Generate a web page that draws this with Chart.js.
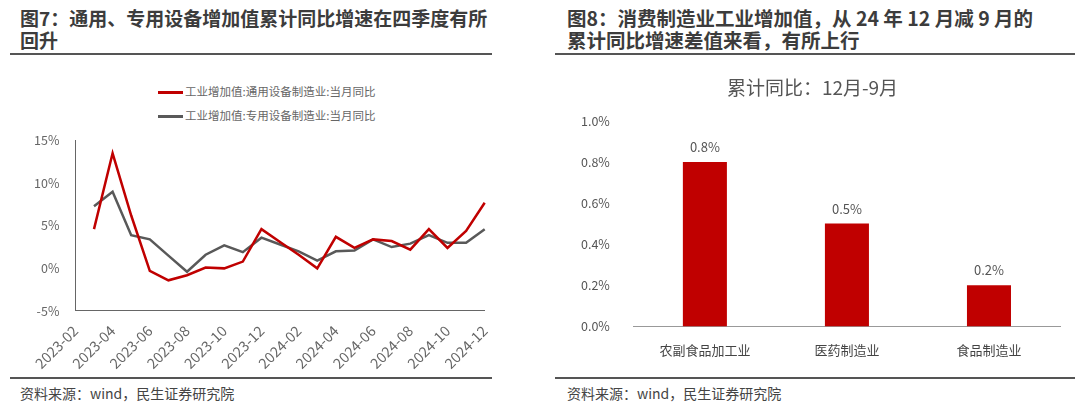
<!DOCTYPE html>
<html><head><meta charset="utf-8">
<script src="https://cdn.jsdelivr.net/npm/chart.js@4"></script>
<style>
body{margin:0;width:1080px;height:409px;background:#fff;font-family:"Noto Sans CJK SC",sans-serif;position:relative;overflow:hidden}
.title{position:absolute;font-weight:bold;font-size:19px;line-height:22px;color:#3c3c3c;white-space:nowrap}
.rule{position:absolute;height:2px;background:#555}
.src{position:absolute;font-size:14px;color:#444;top:383px}
.leg{position:absolute;font-size:11.5px;color:#666;left:158px}
.leg i{display:inline-block;width:25px;height:3px;vertical-align:middle;margin-right:2px}
</style></head><body>
<div class="title" style="left:20px;top:7px">图7：通用、专用设备增加值累计同比增速在四季度有所<br>回升</div>
<div class="rule" style="left:10px;top:53px;width:482px"></div>
<div class="title" style="left:567px;top:7px;font-size:19.5px">图8：消费制造业工业增加值，从 24 年 12 月减 9 月的<br>累计同比增速差值来看，有所上行</div>
<div class="rule" style="left:555px;top:53px;width:520px"></div>
<div class="leg" style="top:83px"><i style="background:#c00000"></i>工业增加值:通用设备制造业:当月同比</div>
<div class="leg" style="top:107px"><i style="background:#595959"></i>工业增加值:专用设备制造业:当月同比</div>
<div style="position:absolute;left:26px;top:125px;width:474px;height:250px"><canvas id="c1"></canvas></div>
<div style="position:absolute;left:565px;top:76px;width:505px;height:300px"><canvas id="c2"></canvas></div>
<div class="rule" style="left:10px;top:377px;width:482px"></div>
<div class="rule" style="left:555px;top:377px;width:520px"></div>
<div class="src" style="left:20px">资料来源：wind，民生证券研究院</div>
<div class="src" style="left:567px">资料来源：wind，民生证券研究院</div>
<script>
const months = ['2023-02','2023-03','2023-04','2023-05','2023-06','2023-07','2023-08','2023-09','2023-10','2023-11','2023-12',
  '2024-01','2024-02','2024-03','2024-04','2024-05','2024-06','2024-07','2024-08','2024-09','2024-10','2024-11','2024-12'];
const general = [null,4.6,13.5,6.2,-0.3,-1.4,-0.8,0.1,0,0.8,4.6,3.1,1.6,0,3.7,2.4,3.4,3.2,2.2,4.6,2.4,4.4,7.7];
const special = [null,7.3,9.0,3.9,3.4,1.5,-0.4,1.6,2.7,1.9,3.6,2.8,2.0,0.9,2.0,2.1,3.4,2.5,2.9,3.9,3.0,3.0,4.6];
const industries = ['农副食品加工业','医药制造业','食品制造业'];
const diffs = [0.8,0.5,0.2];

const tickFont = {family:'Noto Sans CJK SC', size:14.5};
new Chart(document.getElementById('c1'), {
  type:'line',
  data:{labels:months, datasets:[
    {data:general, borderColor:'#c00000', borderWidth:2.5, pointRadius:0, tension:0},
    {data:special, borderColor:'#595959', borderWidth:2.5, pointRadius:0, tension:0}
  ]},
  options:{responsive:true, maintainAspectRatio:false, animation:false,
    layout:{padding:{right:14, top:6}},
    plugins:{legend:{display:false}},
    scales:{
      x:{grid:{display:false, drawTicks:true}, border:{color:'#666'},
        ticks:{color:'#666', font:tickFont, maxRotation:45, minRotation:45, autoSkip:false,
          callback:(v,i)=> i%2===0 ? months[i] : ''}},
      y:{min:-5, max:15, grid:{display:false}, border:{color:'#666'},
        ticks:{stepSize:5, color:'#666', font:{family:'Noto Sans CJK SC', size:12.5}, padding:8, callback:v=>v+'%'}}
    }}
});

const barLabels = {id:'barLabels', afterDatasetsDraw(ch){
  const c = ch.ctx; c.save(); c.fillStyle='#555'; c.font='13px "Noto Sans CJK SC"'; c.textAlign='center';
  ch.getDatasetMeta(0).data.forEach((b,i)=>c.fillText(diffs[i].toFixed(1)+'%', b.x, b.y-10));
  c.restore();
}};
new Chart(document.getElementById('c2'), {
  type:'bar',
  data:{labels:industries, datasets:[{data:diffs, backgroundColor:'#c00000', barPercentage:0.31, categoryPercentage:1}]},
  options:{responsive:true, maintainAspectRatio:false, animation:false,
    layout:{padding:{left:0, right:10, bottom:10}},
    plugins:{legend:{display:false},
      title:{display:true, text:'累计同比：12月-9月', color:'#555', font:{family:'Noto Sans CJK SC', size:19, weight:'normal'}, padding:{top:0,bottom:22}}},
    scales:{
      x:{grid:{display:false}, border:{color:'#999'}, ticks:{color:'#444', padding:8, font:{family:'Noto Sans CJK SC', size:13}}},
      y:{min:0, max:1, grid:{display:false}, border:{display:false},
        ticks:{stepSize:0.2, color:'#555', padding:16, font:{family:'Noto Sans CJK SC', size:12.5}, callback:v=>v.toFixed(1)+'%'}}
    }},
  plugins:[barLabels]
});
</script>
</body></html>
